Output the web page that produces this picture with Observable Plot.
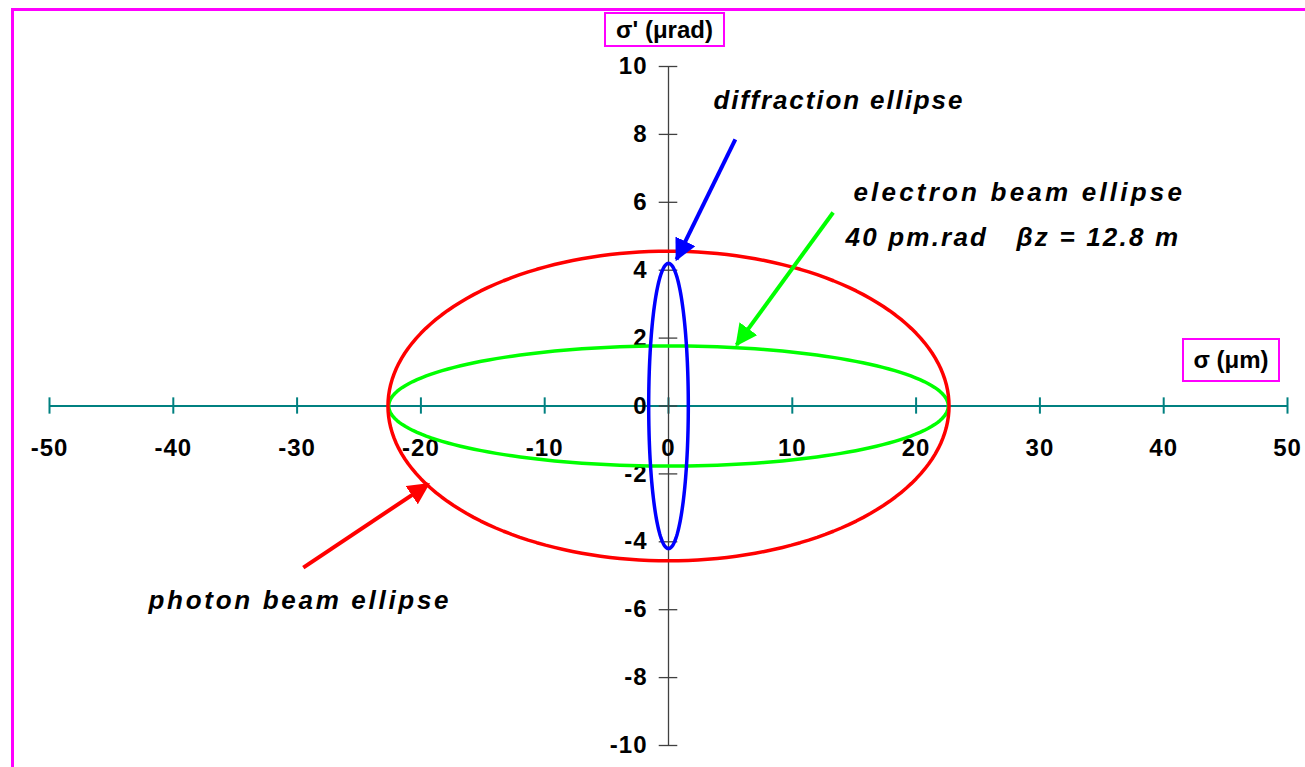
<!DOCTYPE html>
<html>
<head>
<meta charset="utf-8">
<script src="https://cdn.jsdelivr.net/npm/d3@7"></script>
<script src="https://cdn.jsdelivr.net/npm/@observablehq/plot@0.6"></script>
<style>
  html, body { margin: 0; padding: 0; background: #fff; overflow: hidden; }
  body { width: 1305px; height: 767px; position: relative; font-family: "Liberation Sans", Arial, sans-serif; }
  #border { position: absolute; left: 11px; top: 8px; width: 1400px; height: 900px; border: 3px solid #ff00ff; box-sizing: border-box; }
  #chart { position: absolute; left: 0; top: 0; }
  .axis-label { position: absolute; border: 2px solid #ff00ff; box-sizing: border-box; background: #fff;
    font-weight: bold; font-size: 24px; display: flex; align-items: center; justify-content: center; color: #000; }
</style>
</head>
<body>
<div id="border"></div>
<div id="chart"></div>
<div class="axis-label" style="left:604px; top:12px; width:121px; height:35px;">σ' (μrad)</div>
<div class="axis-label" style="left:1182px; top:338px; width:98px; height:44px;">σ (μm)</div>
<script>
// Axis ticks
const xTicks = [-50, -40, -30, -20, -10, 0, 10, 20, 30, 40, 50];
const yTicks = [-10, -8, -6, -4, -2, 0, 2, 4, 6, 8, 10];

// Beam ellipses: rms size σ (μm) and divergence σ' (μrad)
const ellipseNames = ["electron beam ellipse", "diffraction ellipse", "photon beam ellipse"];
const ellipseSigma = [22.6, 1.6, 22.66];
const ellipseSigmaPrime = [1.77, 4.2, 4.56];
const ellipseColors = ["#00ff00", "#0000ff", "#ff0000"];

// Annotation arrows (tail → tip), in σ / σ' units
const arrowColors = ["#0000ff", "#00ff00", "#ff0000"];
const arrowX1 = [5.4, 13.3, -29.5];
const arrowY1 = [7.85, 5.7, -4.76];
const arrowX2 = [0.65, 5.5, -19.4];
const arrowY2 = [4.32, 1.8, -2.3];

// Annotation labels
const labelTexts = ["diffraction ellipse", "electron beam ellipse", "40 pm.rad\u00a0\u00a0\u00a0βz = 12.8 m", "photon beam ellipse"];
const labelX = [3.63, 14.94, 14.3, -42.0];
const labelY = [9.0, 6.29, 4.96, -5.73];

// letter spacing (px) used for each annotation line
const labelSpacing = [1.9, 3.2, 2.2, 2.7];

// Outline of each ellipse traced around its semi-axes
const ellipsePoints = [];
ellipseNames.forEach((name, k) => {
  for (let a = 0; a <= 360; a += 2) {
    const t = a * Math.PI / 180;
    ellipsePoints.push({name, color: ellipseColors[k],
      x: ellipseSigma[k] * Math.cos(t), y: ellipseSigmaPrime[k] * Math.sin(t)});
  }
});
const arrows = arrowColors.map((c, i) => ({color: c, x1: arrowX1[i], y1: arrowY1[i], x2: arrowX2[i], y2: arrowY2[i]}));
const labels = labelTexts.map((t, i) => ({text: t, x: labelX[i], y: labelY[i]}));

const tickHalfX = 0.24;  // half-length of x tick marks, σ' units
const tickHalfY = 0.75;  // half-length of y tick marks, σ units
const fmt = d => String(d);  // plain hyphen-minus, as in the axis labels

const chart = Plot.plot({
  width: 1305,
  height: 767,
  marginLeft: 49,
  marginRight: 18,
  marginTop: 66,
  marginBottom: 22,
  x: {domain: [-50, 50], axis: null},
  y: {domain: [-10, 10], axis: null},
  color: {type: "identity"},
  style: {background: "transparent", fontFamily: "'Liberation Sans', Arial, sans-serif", color: "#000"},
  marks: [
    // horizontal σ axis
    Plot.ruleY([0], {x1: -50, x2: 50, stroke: "#008080", strokeWidth: 2}),
    Plot.ruleX(xTicks, {x: d => d, y1: -tickHalfX, y2: tickHalfX, stroke: "#008080", strokeWidth: 2}),
    // vertical σ' axis
    Plot.ruleX([0], {y1: -10, y2: 10, stroke: "#404040", strokeWidth: 1.3}),
    Plot.ruleY(yTicks, {y: d => d, x1: -tickHalfY, x2: tickHalfY, stroke: "#404040", strokeWidth: 1.3}),
    Plot.text(xTicks, {x: d => d, y: 0, dy: 42, text: fmt, fontSize: 24, fontWeight: "bold", fill: "#000", className: "ticklabel"}),
    Plot.text(yTicks, {x: 0, y: d => d, dx: -21, text: fmt, textAnchor: "end", fontSize: 24, fontWeight: "bold", fill: "#000", className: "ticklabel"}),
    // ellipses
    Plot.line(ellipsePoints, {x: "x", y: "y", z: "name", stroke: "color", strokeWidth: 3.5, curve: "linear"}),
    // arrows
    Plot.link(arrows, {x1: "x1", y1: "y1", x2: "x2", y2: "y2", stroke: "color", strokeWidth: 4, className: "arrow"}),
    // annotations
    Plot.text(labels, {x: "x", y: "y", text: "text", textAnchor: "start", fontSize: 26, fontWeight: "bold", fontStyle: "italic", fill: "#000", className: "annot"})
  ]
});

// Filled triangular arrowheads for the annotation arrows
const svg = d3.select(chart);
const defs = svg.insert("defs", ":first-child");
arrowColors.forEach((c, i) => {
  defs.append("marker")
    .attr("id", "head" + i)
    .attr("viewBox", "0 0 22 22")
    .attr("refX", 20).attr("refY", 11)
    .attr("markerWidth", 22).attr("markerHeight", 22)
    .attr("markerUnits", "userSpaceOnUse")
    .attr("orient", "auto")
    .append("path").attr("d", "M0,0 L22,11 L0,22 Z").attr("fill", c);
});
svg.selectAll(".arrow path").each(function(d, j) {
  d3.select(this).attr("marker-end", `url(#head${j})`);
});
svg.selectAll(".annot text").each(function(d, j) {
  d3.select(this).style("letter-spacing", labelSpacing[j] + "px");
});
svg.selectAll(".ticklabel text").style("letter-spacing", "1px");

document.getElementById("chart").appendChild(chart);
</script>
</body>
</html>
